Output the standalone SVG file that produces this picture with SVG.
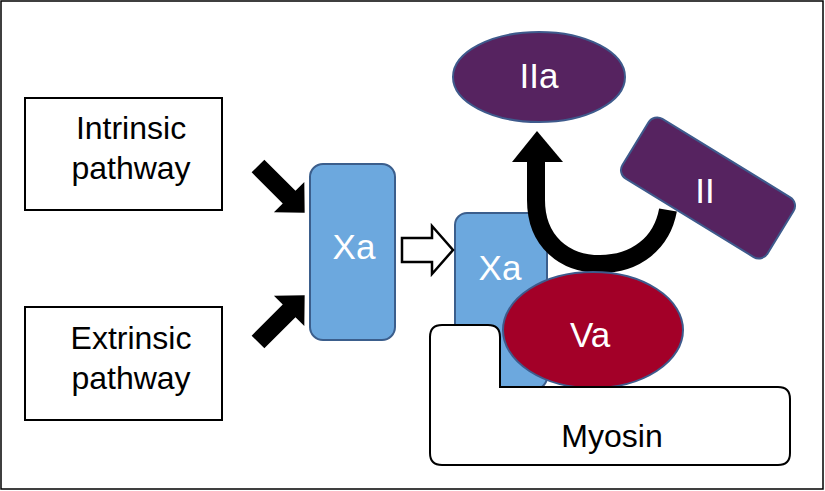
<svg xmlns="http://www.w3.org/2000/svg" width="825" height="491" viewBox="0 0 825 491">
<defs>
<style>
.t{font-family:"Liberation Sans",Arial,sans-serif;font-size:32px;text-anchor:middle}
.w{fill:#fff;font-size:35px}
.box{fill:#fff;stroke:#000;stroke-width:2}
.xa{fill:#6CA8DE;stroke:#3B5E8C;stroke-width:2}
.pur{fill:#562360;stroke:#3E5A8C;stroke-width:2}
.blk{fill:#000}
</style>
<polygon id="blkArrow" points="0,-9 44,-9 44,-21.5 66,0 44,21.5 44,9 0,9"/>
</defs>
<rect x="1" y="1" width="822" height="488" fill="#fff" stroke="#000" stroke-width="1.5"/>
<g id="intrinsic"><rect class="box" x="25" y="98" width="197" height="112"/><text class="t" x="131" y="139">Intrinsic</text><text class="t" x="131" y="179">pathway</text></g>
<g id="extrinsic"><rect class="box" x="25" y="307" width="197" height="113"/><text class="t" x="131" y="349">Extrinsic</text><text class="t" x="131" y="389">pathway</text></g>
<g id="xa1"><rect class="xa" x="310" y="164" width="85" height="176" rx="13"/><text class="t w" x="354" y="259">Xa</text></g>
<g id="xa2"><rect class="xa" x="455" y="213" width="92" height="176" rx="12"/><text class="t w" x="500" y="280">Xa</text></g>
<g id="connectors">
<use href="#blkArrow" class="blk" transform="translate(258,166) rotate(45)"/>
<use href="#blkArrow" class="blk" transform="translate(258,342) rotate(-45)"/>
<polygon points="402,238 432,238 432,226 453,250 432,274 432,262 402,262" fill="#fff" stroke="#000" stroke-width="2.5" stroke-linejoin="miter"/>
<path d="M536,158 L536,200 C536,242 565,264 600,264 C636,264 662,243 668,210" fill="none" stroke="#000" stroke-width="18"/>
<polygon points="512,162 563,162 537,131" fill="#000"/>
</g>
<g id="va"><ellipse cx="593" cy="330" rx="90" ry="58" fill="#A30028" stroke="#3E5A8C" stroke-width="2"/><text class="t w" x="590" y="347">Va</text></g>
<g id="myosin"><path class="box" d="M442,325 L488,325 Q500,325 500,337 L500,387 L778,387 Q790,387 790,399 L790,453 Q790,465 778,465 L442,465 Q430,465 430,453 L430,337 Q430,325 442,325 Z"/><text class="t" x="612" y="447">Myosin</text></g>
<g id="iia"><ellipse class="pur" cx="539" cy="77" rx="86" ry="45"/><text class="t w" x="539" y="88">IIa</text></g>
<g id="ii"><rect class="pur" x="-85" y="-35" width="170" height="70" rx="10" transform="translate(708,188) rotate(31.5)"/><text class="t w" x="705" y="203">II</text></g>
</svg>
